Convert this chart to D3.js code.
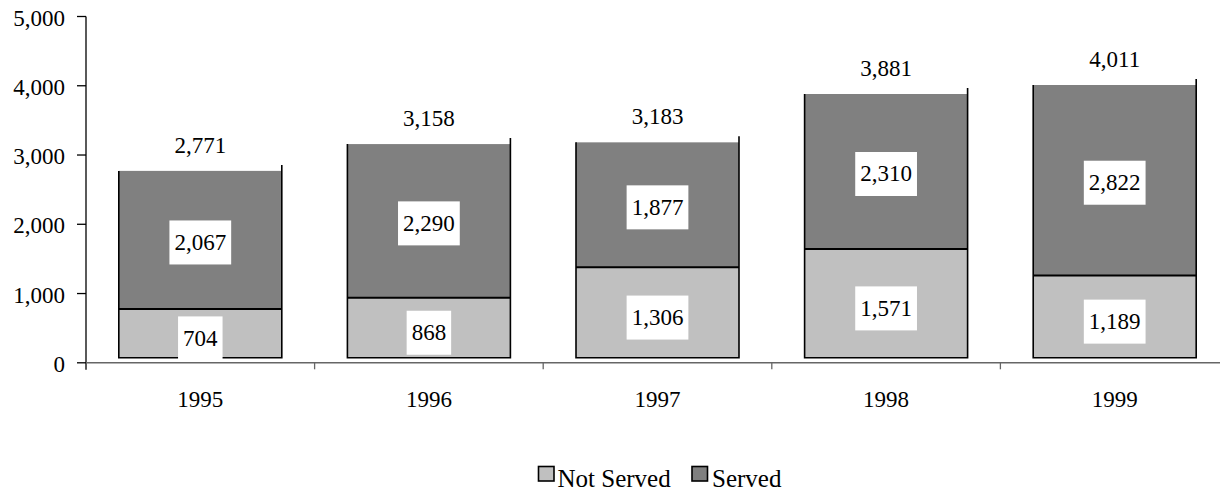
<!DOCTYPE html>
<html>
<head>
<meta charset="utf-8">
<script src="https://cdn.jsdelivr.net/npm/d3@7"></script>
<style>
  html, body { margin: 0; padding: 0; background: #fff; }
  svg { display: block; }
  text { font-family: "Liberation Serif", "Times New Roman", serif; fill: #000; }
</style>
</head>
<body>
<svg id="chart" width="1220" height="491"></svg>
<script>
// Clients per year, split by whether they were served
const years = ["1995", "1996", "1997", "1998", "1999"];
const notServed = [704, 868, 1306, 1571, 1189];
const served = [2067, 2290, 1877, 2310, 2822];
const totals = [2771, 3158, 3183, 3881, 4011];
const yTicks = [0, 1000, 2000, 3000, 4000, 5000];
const seriesNames = ["Not Served", "Served"];
const seriesColors = ["#c0c0c0", "#808080"];

const svg = d3.select("#chart");
const fontSize = 23;
const legendFontSize = 25;
const fmt = d3.format(",");

// Plot frame
const plotLeft = 86, plotRight = 1229, plotTop = 16.5, plotBottom = 362.8;
const x = d3.scaleBand().domain(years).range([plotLeft, plotRight])
  .paddingInner(0.287).paddingOuter(0.1435);
const y = d3.scaleLinear().domain([0, 5000]).range([plotBottom, plotTop]);
const gap = x.step() - x.bandwidth();
// the front faces of the 3-D columns sit a little above the floor line
const lift = 5;
const depthRise = 6;

const rows = years.map((yr, i) => ({
  year: yr, ns: notServed[i], s: served[i], total: totals[i]
}));

// Y axis
svg.append("line")
  .attr("x1", plotLeft).attr("x2", plotLeft)
  .attr("y1", y(5000)).attr("y2", plotBottom + 7)
  .attr("stroke", "#000").attr("stroke-width", 1.3);
const yt = svg.append("g");
yt.selectAll("line").data(yTicks).join("line")
  .attr("x1", plotLeft - 9).attr("x2", plotLeft)
  .attr("y1", d => y(d)).attr("y2", d => y(d))
  .attr("stroke", "#000").attr("stroke-width", 1.3);
yt.selectAll("text").data(yTicks).join("text")
  .attr("x", plotLeft - 21).attr("y", d => y(d) + 9)
  .attr("text-anchor", "end").attr("font-size", fontSize)
  .text(d => fmt(d));

// X axis
svg.append("line")
  .attr("x1", plotLeft).attr("x2", 1220)
  .attr("y1", plotBottom).attr("y2", plotBottom)
  .attr("stroke", "#666").attr("stroke-width", 1.5);
svg.append("g").selectAll("line").data(years.slice(1)).join("line")
  .attr("x1", d => x(d) - gap / 2)
  .attr("x2", d => x(d) - gap / 2)
  .attr("y1", plotBottom).attr("y2", plotBottom + 6.5)
  .attr("stroke", "#666").attr("stroke-width", 1.3);
svg.append("g").selectAll("text").data(years).join("text")
  .attr("x", d => x(d) + x.bandwidth() / 2)
  .attr("y", 407)
  .attr("text-anchor", "middle").attr("font-size", fontSize)
  .text(d => d);

// Columns
const bars = svg.append("g").selectAll("g").data(rows).join("g");
bars.append("rect")
  .attr("x", d => x(d.year)).attr("width", x.bandwidth())
  .attr("y", d => y(d.ns) - lift)
  .attr("height", d => plotBottom - y(d.ns))
  .attr("fill", seriesColors[0]);
bars.append("rect")
  .attr("x", d => x(d.year)).attr("width", x.bandwidth())
  .attr("y", d => y(d.total))
  .attr("height", d => (y(d.ns) - lift) - y(d.total))
  .attr("fill", seriesColors[1]);
// outlines: sides, floor edge and the split between the two series
bars.append("path")
  .attr("fill", "none").attr("stroke", "#000").attr("stroke-width", 1.6)
  .attr("d", d => {
    const x0 = x(d.year), x1 = x(d.year) + x.bandwidth();
    const b = plotBottom - lift, t = y(d.total);
    return `M${x0},${t}V${b}H${x1}V${t - depthRise}`;
  });
bars.append("line")
  .attr("x1", d => x(d.year)).attr("x2", d => x(d.year) + x.bandwidth())
  .attr("y1", d => y(d.ns) - lift).attr("y2", d => y(d.ns) - lift)
  .attr("stroke", "#000").attr("stroke-width", 2);

// Segment value labels on white boxes
function boxedLabel(g, cx, cy, value) {
  const t = g.append("text")
    .attr("x", cx).attr("y", cy + 7.5)
    .attr("text-anchor", "middle").attr("font-size", fontSize)
    .text(fmt(value));
  const w = t.node().getComputedTextLength() + 10;
  g.insert("rect", () => t.node())
    .attr("x", cx - w / 2).attr("y", cy - 22)
    .attr("width", w).attr("height", 44)
    .attr("fill", "#fff");
}
bars.each(function(d) {
  const g = d3.select(this);
  const cx = x(d.year) + x.bandwidth() / 2;
  boxedLabel(g, cx, (y(0) + y(d.ns)) / 2, d.ns);
  boxedLabel(g, cx, (y(d.ns) + y(d.total)) / 2, d.s);
  g.append("text")
    .attr("x", cx).attr("y", y(d.total) - 18)
    .attr("text-anchor", "middle").attr("font-size", fontSize)
    .text(fmt(d.total));
});

// Legend
const legendItems = [
  { name: seriesNames[0], color: seriesColors[0], sx: 538.5, tx: 557.5 },
  { name: seriesNames[1], color: seriesColors[1], sx: 692, tx: 712 }
];
const lg = svg.append("g").selectAll("g").data(legendItems).join("g");
lg.append("rect")
  .attr("x", d => d.sx).attr("y", 466.5)
  .attr("width", 15.5).attr("height", 14.5)
  .attr("fill", d => d.color).attr("stroke", "#000").attr("stroke-width", 1.6);
lg.append("text")
  .attr("x", d => d.tx).attr("y", 486.5)
  .attr("font-size", legendFontSize)
  .text(d => d.name);
</script>
</body>
</html>
